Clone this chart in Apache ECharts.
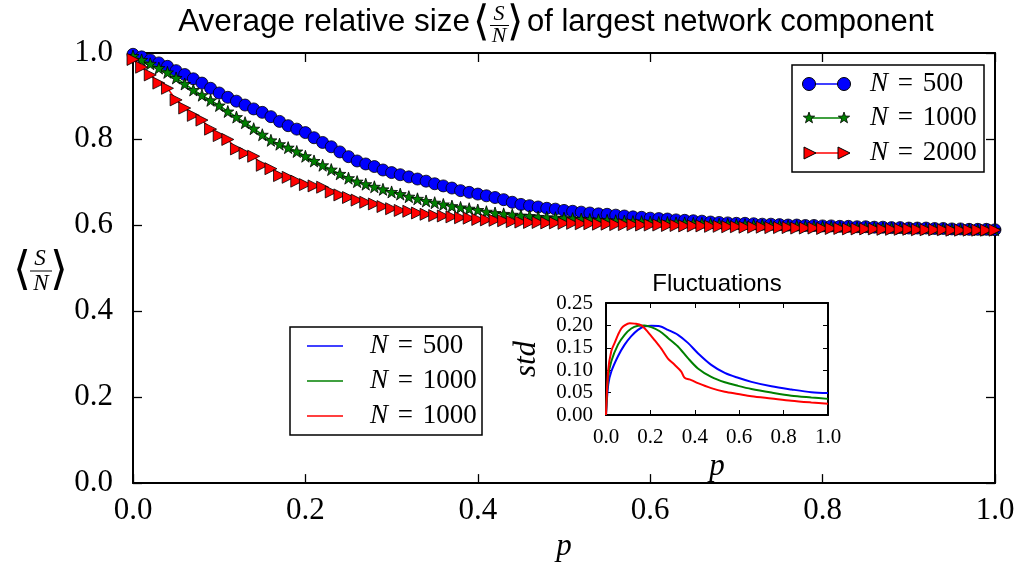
<!DOCTYPE html>
<html>
<head>
<meta charset="utf-8">
<script src="https://cdn.jsdelivr.net/npm/echarts@6/dist/echarts.min.js"></script>
<style>
  html, body { margin: 0; padding: 0; background: #fff; }
  #chart { width: 1027px; height: 567px; }
</style>
</head>
<body>
<div id="chart"></div>
<script>
// Occupation probability p (main panel)
const P = [0.00,0.01,0.02,0.03,0.04,0.05,0.06,0.07,0.08,0.09,
  0.10,0.11,0.12,0.13,0.14,0.15,0.16,0.17,0.18,0.19,
  0.20,0.21,0.22,0.23,0.24,0.25,0.26,0.27,0.28,0.29,
  0.30,0.31,0.32,0.33,0.34,0.35,0.36,0.37,0.38,0.39,
  0.40,0.41,0.42,0.43,0.44,0.45,0.46,0.47,0.48,0.49,
  0.50,0.51,0.52,0.53,0.54,0.55,0.56,0.57,0.58,0.59,
  0.60,0.61,0.62,0.63,0.64,0.65,0.66,0.67,0.68,0.69,
  0.70,0.71,0.72,0.73,0.74,0.75,0.76,0.77,0.78,0.79,
  0.80,0.81,0.82,0.83,0.84,0.85,0.86,0.87,0.88,0.89,
  0.90,0.91,0.92,0.93,0.94,0.95,0.96,0.97,0.98,0.99,1.00];

// <S/N> for N = 500
const S500 = [0.997,0.991,0.984,0.977,0.969,0.959,0.950,0.940,0.930,0.918,
  0.907,0.897,0.888,0.879,0.870,0.862,0.852,0.841,0.831,0.823,
  0.815,0.803,0.792,0.782,0.770,0.759,0.749,0.742,0.736,0.728,
  0.722,0.717,0.712,0.707,0.702,0.696,0.691,0.686,0.680,0.676,
  0.672,0.668,0.664,0.659,0.653,0.648,0.645,0.642,0.639,0.637,
  0.634,0.632,0.630,0.628,0.626,0.625,0.623,0.621,0.619,0.618,
  0.616,0.615,0.614,0.612,0.611,0.610,0.609,0.607,0.606,0.605,
  0.604,0.604,0.603,0.602,0.602,0.601,0.600,0.600,0.599,0.599,
  0.598,0.598,0.597,0.597,0.596,0.596,0.595,0.595,0.594,0.594,
  0.593,0.593,0.593,0.592,0.592,0.591,0.591,0.590,0.590,0.590,0.589];

// <S/N> for N = 1000
const S1000 = [0.993,0.984,0.975,0.965,0.955,0.942,0.928,0.914,0.902,0.890,
  0.878,0.864,0.851,0.838,0.824,0.810,0.797,0.788,0.780,0.771,
  0.760,0.749,0.739,0.729,0.719,0.709,0.701,0.695,0.689,0.683,
  0.677,0.672,0.666,0.661,0.656,0.652,0.648,0.644,0.641,0.638,
  0.635,0.631,0.628,0.626,0.624,0.622,0.621,0.619,0.618,0.617,
  0.616,0.615,0.614,0.613,0.612,0.611,0.610,0.609,0.608,0.608,
  0.607,0.606,0.606,0.605,0.605,0.604,0.604,0.603,0.602,0.602,
  0.601,0.601,0.600,0.600,0.599,0.599,0.598,0.598,0.597,0.597,
  0.596,0.596,0.595,0.595,0.594,0.594,0.594,0.593,0.593,0.592,
  0.592,0.592,0.591,0.591,0.591,0.590,0.590,0.590,0.589,0.589,0.589];

// <S/N> for N = 2000
const S2000 = [0.985,0.967,0.949,0.930,0.918,0.891,0.872,0.855,0.844,0.823,
  0.808,0.799,0.777,0.767,0.760,0.739,0.731,0.715,0.711,0.702,
  0.694,0.691,0.688,0.677,0.670,0.664,0.658,0.653,0.649,0.643,
  0.638,0.634,0.632,0.628,0.625,0.622,0.621,0.619,0.617,0.616,
  0.613,0.612,0.611,0.610,0.608,0.607,0.606,0.606,0.605,0.605,
  0.604,0.604,0.603,0.603,0.602,0.602,0.601,0.601,0.601,0.600,
  0.600,0.600,0.599,0.599,0.598,0.598,0.598,0.597,0.597,0.596,
  0.596,0.595,0.595,0.595,0.594,0.594,0.594,0.593,0.593,0.593,
  0.592,0.592,0.592,0.591,0.591,0.591,0.591,0.590,0.590,0.590,
  0.590,0.589,0.589,0.589,0.589,0.588,0.588,0.588,0.588,0.588,0.588];

// Fluctuations (standard deviation) for the inset
const F_P500 = [0.000,0.010,0.024,0.054,0.084,0.114,0.144,0.174,0.204,0.242,0.279,0.324,0.369,0.414,0.474,0.535,0.595,0.655,0.745,0.835,0.925,1.000];
const F_500  = [0.000,0.068,0.097,0.131,0.157,0.176,0.190,0.198,0.199,0.198,0.190,0.179,0.161,0.138,0.112,0.094,0.083,0.074,0.064,0.057,0.051,0.049];
const F_P1000 = [0.000,0.010,0.024,0.054,0.084,0.114,0.144,0.174,0.204,0.242,0.279,0.324,0.369,0.414,0.474,0.535,0.595,0.655,0.745,0.835,0.925,1.000];
const F_1000  = [0.000,0.085,0.120,0.157,0.179,0.193,0.199,0.200,0.196,0.187,0.172,0.153,0.127,0.104,0.085,0.073,0.065,0.058,0.050,0.043,0.039,0.036];
const F_P2000 = [0.000,0.010,0.024,0.039,0.054,0.069,0.084,0.107,0.129,0.159,0.189,0.219,0.249,0.279,0.309,0.339,0.354,0.384,0.414,0.474,0.535,0.595,0.655,0.745,0.835,0.925,1.000];
const F_2000  = [0.000,0.100,0.143,0.161,0.179,0.193,0.200,0.205,0.204,0.200,0.185,0.167,0.148,0.126,0.112,0.097,0.083,0.078,0.071,0.060,0.052,0.047,0.042,0.037,0.032,0.028,0.025];

const LEGEND_MAIN = ['500', '1000', '2000'];
const LEGEND_INSET = ['500', '1000', '1000'];

const BLUE = '#0000ff', GREEN = '#008000', RED = '#ff0000';
const STAR = 'path://M0,-10 L2.35,-3.24 9.51,-3.09 3.8,1.24 5.88,8.09 0,4 -5.88,8.09 -3.8,1.24 -9.51,-3.09 -2.35,-3.24 Z';
const SERIF = '"Liberation Serif", "DejaVu Serif", serif';
const SANS = '"Liberation Sans", Arial, sans-serif';
const BRACKET = '"DejaVu Sans ExtraLight", "DejaVu Sans Light", "DejaVu Sans", sans-serif';

const pairs = (xs, ys) => xs.map((x, i) => [x, ys[i]]);

function axisBase(extra) {
  return Object.assign({
    type: 'value',
    splitLine: { show: false },
    axisLine: { show: true, onZero: false, lineStyle: { color: '#000', width: 2 } },
    axisTick: { show: true, inside: true, length: 9, lineStyle: { color: '#000', width: 1.3 } },
    axisLabel: { show: false }
  }, extra);
}

const mainLabel = {
  show: true, color: '#000', fontFamily: SERIF, fontSize: 31,
  formatter: v => v.toFixed(1)
};
const insetLabel = {
  show: true, color: '#000', fontFamily: SERIF, fontSize: 21
};
const insetAxisLine = { show: true, onZero: false, lineStyle: { color: '#000', width: 2 } };
const insetTick = { show: true, inside: true, length: 5, lineStyle: { color: '#000', width: 1 } };

const chart = echarts.init(document.getElementById('chart'), null, { renderer: 'canvas' });

// Drawing helpers for titles and legends
function text(x, y, str, font, align, vAlign) {
  return {
    type: 'text', x: x, y: y, z: 100,
    style: {
      text: str, font: font, fill: '#000',
      align: align || 'left', textAlign: align || 'left',
      verticalAlign: vAlign || 'middle', textVerticalAlign: vAlign || 'middle'
    }
  };
}
function legendLabel(x, y, n) {
  return {
    type: 'text', x: x, y: y, z: 100,
    style: {
      text: '{i|N} {e|=} ' + n,
      rich: {
        i: { fontStyle: 'italic', fontFamily: SERIF, fontSize: 27 },
        e: { fontFamily: SERIF, fontSize: 27, padding: [0, 3, 0, 3] }
      },
      font: '27px ' + SERIF, fill: '#000',
      align: 'left', textAlign: 'left', verticalAlign: 'middle', textVerticalAlign: 'middle'
    }
  };
}
function hline(x1, x2, y, color, w) {
  return { type: 'line', z: 100, shape: { x1: x1, y1: y, x2: x2, y2: y }, style: { stroke: color, lineWidth: w } };
}
function circ(x, y, r, color) {
  return { type: 'circle', z: 101, shape: { cx: x, cy: y, r: r }, style: { fill: color, stroke: '#000', lineWidth: 1 } };
}
function tri(x, y, s, color) {
  return { type: 'polygon', z: 101, shape: { points: [[x - s, y - s], [x + s, y], [x - s, y + s]] }, style: { fill: color, stroke: '#000', lineWidth: 1 } };
}
function star(x, y, r, color) {
  const pts = [];
  for (let k = 0; k < 10; k++) {
    const a = -Math.PI / 2 + k * Math.PI / 5;
    const rr = k % 2 === 0 ? r : r * 0.4;
    pts.push([x + rr * Math.cos(a), y + rr * Math.sin(a)]);
  }
  return { type: 'polygon', z: 101, shape: { points: pts }, style: { fill: color, stroke: '#000', lineWidth: 0.8 } };
}
function fracLine(x1, x2, y) {
  return { type: 'line', z: 100, shape: { x1: x1, y1: y, x2: x2, y2: y }, style: { stroke: '#000', lineWidth: 1 } };
}

const graphics = [
  // Title with the fraction S/N in angle brackets
  text(470, 22, 'Average relative size', '31.5px ' + SANS, 'right'),
  text(481, 24, '\u27E8', '200 42px ' + BRACKET, 'center'),
  text(499, 14, 'S', 'italic 22px ' + SERIF, 'center'),
  fracLine(490, 509, 25.5),
  text(499, 36, 'N', 'italic 22px ' + SERIF, 'center'),
  text(515, 24, '\u27E9', '200 42px ' + BRACKET, 'center'),
  text(527, 22, 'of largest network component', '31px ' + SANS, 'left'),

  // y-axis label
  text(22, 272, '\u27E8', '200 46px ' + BRACKET, 'center'),
  text(40, 259, 'S', 'italic 23px ' + SERIF, 'center'),
  fracLine(30, 52, 271),
  text(41, 284, 'N', 'italic 23px ' + SERIF, 'center'),
  text(59, 272, '\u27E9', '200 46px ' + BRACKET, 'center'),

  // Inset title
  text(717, 284, 'Fluctuations', '24px ' + SANS, 'center'),

  // Legend for the main curves
  { type: 'rect', z: 99, shape: { x: 792, y: 65, width: 192, height: 107 }, style: { fill: '#fff', stroke: '#000', lineWidth: 1.5 } },
  hline(809, 844, 84, BLUE, 1.5), circ(809, 84, 6.5, BLUE), circ(844, 84, 6.5, BLUE),
  hline(809, 844, 118, GREEN, 1.5), star(809, 118, 6, GREEN), star(844, 118, 6, GREEN),
  hline(809, 844, 153, RED, 1.5), tri(810, 153, 6, RED), tri(844, 153, 6, RED),
  legendLabel(870, 84, LEGEND_MAIN[0]),
  legendLabel(870, 118, LEGEND_MAIN[1]),
  legendLabel(870, 153, LEGEND_MAIN[2]),

  // Legend for the inset curves
  { type: 'rect', z: 99, shape: { x: 290, y: 327, width: 192, height: 108 }, style: { fill: '#fff', stroke: '#000', lineWidth: 1.5 } },
  hline(307, 343, 346, BLUE, 1.5),
  hline(307, 343, 381, GREEN, 1.5),
  hline(307, 343, 416, RED, 1.5),
  legendLabel(370, 346, LEGEND_INSET[0]),
  legendLabel(370, 381, LEGEND_INSET[1]),
  legendLabel(370, 416, LEGEND_INSET[2])
];

const option = {
  backgroundColor: '#fff',
  animation: false,
  grid: [
    { left: 133, top: 53, width: 862, height: 445, containLabel: false },
    { left: 606, top: 303, width: 222, height: 112, containLabel: false,
      show: true, backgroundColor: '#fff', borderWidth: 0, z: 5 }
  ],
  xAxis: [
    axisBase({ gridIndex: 0, min: 0, max: 1, interval: 0.2, position: 'bottom',
      axisLabel: Object.assign({ margin: 12 }, mainLabel),
      name: 'p', nameLocation: 'middle', nameGap: 40,
      nameTextStyle: { fontFamily: SERIF, fontStyle: 'italic', fontSize: 31, color: '#000' } }),
    axisBase({ gridIndex: 0, min: 0, max: 1, interval: 0.2, position: 'top' }),
    axisBase({ gridIndex: 1, min: 0, max: 1, interval: 0.2, position: 'bottom', z: 6,
      axisLine: insetAxisLine, axisTick: insetTick,
      axisLabel: Object.assign({ margin: 12, formatter: v => v.toFixed(1) }, insetLabel),
      name: 'p', nameLocation: 'middle', nameGap: 36,
      nameTextStyle: { fontFamily: SERIF, fontStyle: 'italic', fontSize: 31, color: '#000' } }),
    axisBase({ gridIndex: 1, min: 0, max: 1, interval: 0.2, position: 'top', z: 6,
      axisLine: insetAxisLine, axisTick: insetTick })
  ],
  yAxis: [
    axisBase({ gridIndex: 0, min: 0, max: 1, interval: 0.2, position: 'left',
      axisLabel: Object.assign({ margin: 20 }, mainLabel) }),
    axisBase({ gridIndex: 0, min: 0, max: 1, interval: 0.2, position: 'right' }),
    axisBase({ gridIndex: 1, min: 0, max: 0.25, interval: 0.05, position: 'left', z: 6,
      axisLine: insetAxisLine, axisTick: insetTick,
      axisLabel: Object.assign({ margin: 13, formatter: v => v.toFixed(2) }, insetLabel),
      name: 'std', nameLocation: 'middle', nameGap: 64, nameRotate: 90,
      nameTextStyle: { fontFamily: SERIF, fontStyle: 'italic', fontSize: 31, color: '#000' } }),
    axisBase({ gridIndex: 1, min: 0, max: 0.25, interval: 0.05, position: 'right', z: 6,
      axisLine: insetAxisLine, axisTick: insetTick })
  ],
  series: [
    { type: 'line', name: 'N = 500', xAxisIndex: 0, yAxisIndex: 0, data: pairs(P, S500),
      symbol: 'circle', symbolSize: 12, showAllSymbol: true, z: 2,
      lineStyle: { color: BLUE, width: 1.5 },
      itemStyle: { color: BLUE, borderColor: '#000', borderWidth: 0.8 } },
    { type: 'line', name: 'N = 1000', xAxisIndex: 0, yAxisIndex: 0, data: pairs(P, S1000),
      symbol: STAR, symbolSize: 12, showAllSymbol: true, z: 3,
      lineStyle: { color: GREEN, width: 1.5 },
      itemStyle: { color: GREEN, borderColor: '#000', borderWidth: 0.8 } },
    { type: 'line', name: 'N = 2000', xAxisIndex: 0, yAxisIndex: 0, data: pairs(P, S2000),
      symbol: 'triangle', symbolRotate: -90, symbolSize: 12, showAllSymbol: true, z: 4,
      lineStyle: { color: RED, width: 1.5 },
      itemStyle: { color: RED, borderColor: '#000', borderWidth: 0.8 } },

    { type: 'line', xAxisIndex: 2, yAxisIndex: 2, data: pairs(F_P500, F_500), z: 7,
      symbol: 'none', smooth: 0.3, lineStyle: { color: BLUE, width: 2 } },
    { type: 'line', xAxisIndex: 2, yAxisIndex: 2, data: pairs(F_P1000, F_1000), z: 7,
      symbol: 'none', smooth: 0.3, lineStyle: { color: GREEN, width: 2 } },
    { type: 'line', xAxisIndex: 2, yAxisIndex: 2, data: pairs(F_P2000, F_2000), z: 7,
      symbol: 'none', smooth: 0.3, lineStyle: { color: RED, width: 2 } }
  ],
  graphic: graphics
};

chart.setOption(option);
</script>
</body>
</html>
